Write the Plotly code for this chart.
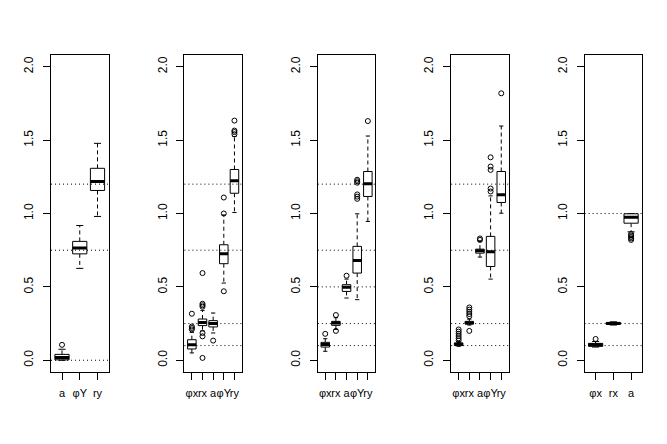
import plotly.graph_objects as go
from plotly.subplots import make_subplots

# box labels for each of the five panels
labels = [
    ["a", "φY", "ry"],
    ["φx", "rx", "a", "φY", "ry"],
    ["φx", "rx", "a", "φY", "ry"],
    ["φx", "rx", "a", "φY", "ry"],
    ["φx", "rx", "a"],
]

# five-number summaries
whisk_lo = [
    [0.0, 0.626, 0.98],
    [0.05, 0.2, 0.186, 0.526, 1.007],
    [0.061, 0.21, 0.424, 0.413, 0.946],
    [0.095, 0.24, 0.703, 0.553, 1.002],
    [0.09, 0.24, 0.875],
]
q1 = [
    [0.003, 0.725, 1.157],
    [0.077, 0.236, 0.227, 0.658, 1.138],
    [0.09, 0.238, 0.469, 0.594, 1.116],
    [0.1, 0.247, 0.73, 0.639, 1.075],
    [0.095, 0.245, 0.934],
]
med = [
    [0.018, 0.765, 1.218],
    [0.105, 0.258, 0.25, 0.726, 1.224],
    [0.107, 0.254, 0.497, 0.68, 1.202],
    [0.109, 0.254, 0.746, 0.739, 1.127],
    [0.105, 0.25, 0.975],
]
q3 = [
    [0.04, 0.81, 1.308],
    [0.14, 0.281, 0.27, 0.787, 1.30],
    [0.122, 0.265, 0.515, 0.776, 1.286],
    [0.118, 0.265, 0.757, 0.844, 1.286],
    [0.115, 0.258, 0.998],
]
whisk_hi = [
    [0.075, 0.918, 1.478],
    [0.19, 0.34, 0.322, 0.99, 1.524],
    [0.147, 0.29, 0.553, 0.998, 1.528],
    [0.128, 0.28, 0.81, 1.12, 1.596],
    [0.128, 0.262, 1.0],
]
outliers = [
    [[0.105], [], []],
    [[0.21, 0.22, 0.23, 0.317], [0.365, 0.375, 0.385, 0.594, 0.186, 0.163, 0.016],
     [0.134], [1.0, 1.109, 0.47], [1.54, 1.555, 1.565, 1.633]],
    [[0.18], [0.308, 0.2], [0.576], [1.10, 1.115, 1.13, 1.21, 1.22, 1.23], [1.63]],
    [[0.135, 0.15, 0.165, 0.18, 0.195, 0.21], [0.3, 0.315, 0.33, 0.345, 0.36, 0.2],
     [0.82, 0.83], [1.15, 1.17, 1.297, 1.32, 1.383], [1.819]],
    [[0.145], [], [0.82, 0.83, 0.84, 0.85, 0.86]],
]
# true values (dotted reference lines)
true_vals = [
    [0.0, 0.75, 1.2],
    [0.1, 0.25, 0.75, 1.2],
    [0.1, 0.25, 0.5, 0.75, 1.2],
    [0.1, 0.25, 0.75, 1.2],
    [0.1, 0.25, 1.0],
]
y_ticks = [0.0, 0.5, 1.0, 1.5, 2.0]

# page body has an 8px margin, so the figure is a bit smaller and shifted
OFF = 8
W, H = 667 - 2 * OFF, 444 - 2 * OFF
fig = make_subplots(rows=1, cols=5)
blk = "black"
hw = 0.4   # half box width
cw = 0.2   # half staple width

for p in range(5):
    r, c = 1, p + 1
    n = len(labels[p])
    bx, by, mx, my, wx, wy, cx, cy, ox, oy = [], [], [], [], [], [], [], [], [], []
    for i in range(n):
        x = i + 1
        bx += [x - hw, x + hw, x + hw, x - hw, x - hw, None]
        by += [q1[p][i], q1[p][i], q3[p][i], q3[p][i], q1[p][i], None]
        mx += [x - hw, x + hw, None]
        my += [med[p][i], med[p][i], None]
        wx += [x, x, None, x, x, None]
        wy += [q3[p][i], whisk_hi[p][i], None, q1[p][i], whisk_lo[p][i], None]
        cx += [x - cw, x + cw, None, x - cw, x + cw, None]
        cy += [whisk_hi[p][i], whisk_hi[p][i], None, whisk_lo[p][i], whisk_lo[p][i], None]
        for v in outliers[p][i]:
            ox.append(x)
            oy.append(v)
    fig.add_trace(go.Scatter(x=wx, y=wy, mode="lines",
                             line=dict(color=blk, width=1, dash="4px,3px")), r, c)
    fig.add_trace(go.Scatter(x=cx, y=cy, mode="lines", line=dict(color=blk, width=1)), r, c)
    fig.add_trace(go.Scatter(x=bx, y=by, mode="lines", fill="toself", fillcolor="white",
                             line=dict(color=blk, width=1)), r, c)
    fig.add_trace(go.Scatter(x=mx, y=my, mode="lines", line=dict(color=blk, width=3)), r, c)
    fig.add_trace(go.Scatter(x=ox, y=oy, mode="markers",
                             marker=dict(symbol="circle-open", size=5, color=blk,
                                         line=dict(width=1, color=blk))), r, c)
    for v in true_vals[p]:
        fig.add_hline(y=v, row=r, col=c, line=dict(color=blk, width=1, dash="1px,3px"))

    pad = 0.04 * n
    left = 51 + 133.4 * p - OFF
    fig.update_xaxes(domain=[left / W, (left + 57.5) / W], range=[0.5 - pad, n + 0.5 + pad],
                     tickvals=list(range(1, n + 1)), ticktext=labels[p], tickangle=0,
                     tickfont=dict(family="Liberation Sans Narrow, Liberation Sans, sans-serif",
                                   size=11),
                     ticks="outside", ticklen=7, tickcolor=blk, ticklabelstandoff=4,
                     showline=True, mirror=True, linecolor=blk, linewidth=1, automargin=False,
                     showgrid=False, zeroline=False, row=r, col=c)
    fig.update_yaxes(domain=[1 - (372 - OFF) / H, 1 - (55 - OFF) / H], range=[-0.08, 2.08],
                     tickvals=y_ticks, ticktext=[f"{v:.1f}" for v in y_ticks],
                     tickangle=-90, ticks="outside", ticklen=7, tickcolor=blk,
                     tickfont=dict(size=12),
                     ticklabelstandoff=5, automargin=False,
                     showline=True, mirror=True, linecolor=blk, linewidth=1,
                     showgrid=False, zeroline=False, row=r, col=c)

fig.update_layout(width=W, height=H, margin=dict(l=0, r=0, t=0, b=0),
                  showlegend=False, plot_bgcolor="white", paper_bgcolor="white",
                  font=dict(family="Liberation Sans, DejaVu Sans, sans-serif", size=11, color=blk))
fig.write_html("out.html")
